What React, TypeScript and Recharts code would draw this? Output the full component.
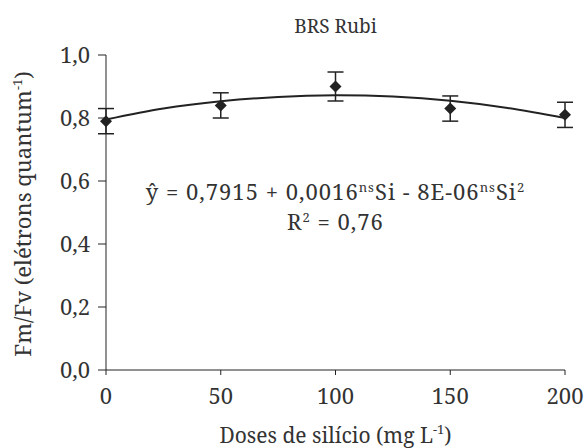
import { ComposedChart, Line, Scatter, ErrorBar, XAxis, YAxis, Label } from "recharts";

// silicon doses (mg L-1)
const doses = [0, 50, 100, 150, 200];
// measured Fm/Fv and the standard error of each mean
const fmFv = [0.79, 0.84, 0.9, 0.83, 0.81];
const fmFvErr = [0.04, 0.04, 0.046, 0.04, 0.04];

// fitted quadratic trend, read along the dose axis
const trendDoses = [0, 25, 50, 75, 100, 125, 150, 175, 200];
const trendValues = [0.795, 0.83, 0.853, 0.867, 0.872, 0.868, 0.855, 0.832, 0.8];

const xTicks = [0, 50, 100, 150, 200];
const yTicks = [0, 0.2, 0.4, 0.6, 0.8, 1.0];

const points = doses.map((x, i) => ({ x, y: fmFv[i], err: fmFvErr[i] }));
const trend = trendDoses.map((x, i) => ({ x, y: trendValues[i] }));

const FONT = "'Noto Serif', serif";
const INK = "#222";
const TEXT = "#333";

function Diamond(props: any) {
  const { cx, cy } = props;
  if (cx == null || cy == null) return null;
  const r = 6;
  return <polygon points={`${cx},${cy - r} ${cx + r},${cy} ${cx},${cy + r} ${cx - r},${cy}`} fill={INK} />;
}

function XTitle({ viewBox }: any) {
  const cx = viewBox.x + viewBox.width / 2;
  return (
    <text x={cx} y={443} textAnchor="middle" style={{ fontFamily: FONT }} fontSize={21} fill={TEXT}>
      Doses de silício (mg L
      <tspan fontSize={13} dy={-9}>-1</tspan>
      <tspan dy={9}>)</tspan>
    </text>
  );
}

function YTitle() {
  const x = 31;
  const y = 214;
  return (
    <text x={x} y={y} transform={`rotate(-90 ${x} ${y})`} textAnchor="middle" style={{ fontFamily: FONT }} fontSize={22} fill={TEXT}>
      Fm/Fv (elétrons quantum
      <tspan fontSize={13} dy={-9}>-1</tspan>
      <tspan dy={9}>)</tspan>
    </text>
  );
}

const comma = (v: number) => v.toFixed(1).replace(".", ",");

export default function App() {
  return (
    <div style={{ position: "absolute", left: 0, top: 0, width: 585, height: 448, background: "#fff", fontFamily: FONT }}>
      <div style={{ position: "absolute", left: 106, width: 459, top: 13, textAlign: "center", fontSize: 19, color: TEXT }}>
        BRS Rubi
      </div>
      <ComposedChart width={585} height={448} margin={{ top: 55, right: 20, bottom: 0, left: 0 }}>
        <XAxis
          type="number"
          dataKey="x"
          domain={[0, 200]}
          ticks={xTicks}
          height={78}
          tickSize={5}
          tickMargin={13}
          stroke={INK}
          tick={{ fill: TEXT, fontSize: 22, style: { fontFamily: FONT } }}
          allowDuplicatedCategory={false}
        >
          <Label content={XTitle} />
        </XAxis>
        <YAxis
          type="number"
          domain={[0, 1]}
          ticks={yTicks}
          width={106}
          tickSize={8}
          tickMargin={8}
          stroke={INK}
          tickFormatter={comma}
          tick={{ fill: TEXT, fontSize: 22, style: { fontFamily: FONT } }}
        >
          <Label content={YTitle} />
        </YAxis>
        <Line
          data={trend}
          dataKey="y"
          type="natural"
          stroke={INK}
          strokeWidth={2}
          dot={false}
          isAnimationActive={false}
        />
        <Scatter data={points} dataKey="y" shape={Diamond} isAnimationActive={false}>
          <ErrorBar dataKey="err" direction="y" width={8} stroke={INK} strokeWidth={1.5} />
        </Scatter>
      </ComposedChart>
      <div
        style={{
          position: "absolute",
          left: 76,
          width: 519,
          top: 174,
          textAlign: "center",
          fontSize: 22,
          letterSpacing: 1,
          color: TEXT,
          lineHeight: "26px",
        }}
      >
        <div>
          ŷ = 0,7915 + 0,0016<sup style={{ fontSize: 13 }}>ns</sup>Si - 8E-06<sup style={{ fontSize: 13 }}>ns</sup>Si
          <sup style={{ fontSize: 13 }}>2</sup>
        </div>
        <div>
          R<sup style={{ fontSize: 13 }}>2</sup> = 0,76
        </div>
      </div>
    </div>
  );
}
